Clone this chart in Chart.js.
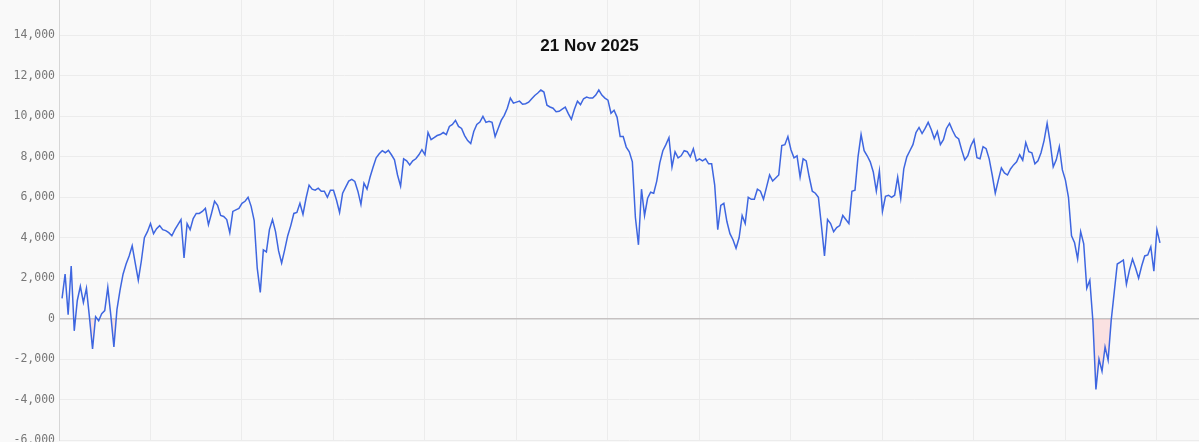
<!DOCTYPE html>
<html><head><meta charset="utf-8">
<script src="https://cdn.jsdelivr.net/npm/chart.js@4.4.1/dist/chart.umd.min.js"></script>
<style>
html,body{margin:0;padding:0;background:#f9f9f9;overflow:hidden;width:1199px;height:442px;}
#wrap{position:absolute;left:0;top:-16px;width:1199px;height:467px;}
</style></head><body>
<div id="wrap"><canvas id="c"></canvas></div>
<script>
const chartTitle = '21 Nov 2025';
const yTickValues = [-6000, -4000, -2000, 0, 2000, 4000, 6000, 8000, 10000, 12000, 14000, 16000];
const xGridIndex = [29, 59, 89, 119, 149, 179, 209, 239, 269, 299, 329, 359];

const pnlPart1 = [
  1000, 2200, 200, 2600, -600, 900, 1600, 800, 1500, 50,
  -1500, 100, -100, 250, 400, 1550, 150, -1400, 450, 1400,
  2200, 2700, 3100, 3600, 2750, 1900, 2850, 4000, 4300, 4700,
  4200, 4450, 4600, 4400, 4350, 4250, 4100, 4400, 4650, 4900,
  3000, 4700, 4400, 4950, 5200, 5200, 5300, 5450, 4650, 5200,
  5800, 5600, 5100, 5050, 4900, 4250, 5300, 5380, 5450, 5700,
  5800, 6000, 5550, 4850, 2500, 1300, 3400, 3300, 4400, 4900,
  4300, 3350, 2750, 3400, 4100, 4600, 5200, 5250, 5700, 5150,
  5950, 6600, 6400, 6350, 6450, 6300, 6300, 6000, 6350, 6350
];
const pnlPart2 = [
  5850, 5250, 6200, 6500, 6800, 6880, 6780, 6300, 5650, 6700,
  6400, 7000, 7500, 7950, 8150, 8300, 8200, 8320, 8100, 7850,
  7100, 6550, 7900, 7800, 7600, 7800, 7900, 8100, 8350, 8100,
  9200, 8850, 8950, 9050, 9100, 9200, 9100, 9500, 9600, 9800,
  9500, 9400, 9050, 8800, 8650, 9250, 9600, 9720, 10000, 9700,
  9750, 9700, 9000, 9400, 9800, 10050, 10400, 10900, 10650, 10700,
  10750, 10600, 10620, 10700, 10870, 11030, 11150, 11300, 11200, 10550,
  10460, 10400, 10230, 10250, 10350, 10450, 10130, 9850, 10350, 10750,
  10580, 10870, 10950, 10900, 10900, 11050, 11300, 11050, 10900, 10800
];
const pnlPart3 = [
  10150, 10300, 9950, 9000, 9000, 8480, 8250, 7750, 5000, 3650,
  6400, 5100, 5950, 6250, 6200, 6800, 7700, 8300, 8600, 8950,
  7500, 8250, 7950, 8050, 8300, 8250, 8000, 8400, 7800, 7900,
  7800, 7900, 7650, 7650, 6600, 4400, 5600, 5700, 4800, 4200,
  3900, 3480, 4000, 5100, 4700, 6000, 5900, 5900, 6400, 6300,
  5900, 6500, 7100, 6800, 6950, 7100, 8550, 8600, 9000, 8350,
  7950, 8050, 7000, 7900, 7800, 7000, 6300, 6200, 6000, 4600,
  3100, 4900, 4700, 4300, 4500, 4600, 5100, 4900, 4700, 6300,
  6350, 8000, 9100, 8300, 8050, 7750, 7250, 6300, 7300, 5300
];
const pnlPart4 = [
  6050, 6100, 6000, 6100, 7000, 5950, 7400, 8000, 8300, 8600,
  9200, 9450, 9150, 9400, 9700, 9350, 8900, 9250, 8600, 8850,
  9400, 9650, 9300, 9000, 8880, 8330, 7850, 8050, 8550, 8850,
  7950, 7900, 8500, 8400, 7900, 7100, 6200, 6850, 7450, 7200,
  7100, 7400, 7600, 7750, 8100, 7830, 8700, 8250, 8200, 7650,
  7800, 8200, 8800, 9650, 8700, 7500, 7850, 8500, 7350, 6850,
  6000, 4100, 3750, 2950, 4300, 3700, 1500, 1900, -100, -3500,
  -2000, -2600, -1400, -2050, -100, 1300, 2700, 2800, 2900, 1700,
  2400, 2950, 2500, 2000, 2600, 3100, 3150, 3550, 2350, 4400,
  3750
];

const pnlValues = pnlPart1.concat(pnlPart2, pnlPart3, pnlPart4);
const points = pnlValues.map((v, i) => ({ x: i, y: v }));

const titlePlugin = {
  id: 'innerTitle',
  afterDraw(chart) {
    const ctx = chart.ctx;
    ctx.save();
    ctx.font = 'bold 17px "Liberation Sans", Arial, sans-serif';
    ctx.fillStyle = '#111';
    ctx.textAlign = 'center';
    ctx.textBaseline = 'alphabetic';
    ctx.fillText(chartTitle, 589.5, 67);
    ctx.restore();
  }
};

new Chart(document.getElementById('c'), {
  type: 'line',
  data: {
    datasets: [{
      data: points,
      borderColor: '#3e66e0',
      borderWidth: 1.5,
      pointRadius: 0,
      tension: 0,
      fill: { target: { value: 0 }, above: 'rgba(0,0,0,0)', below: 'rgba(255,140,140,0.22)' }
    }]
  },
  options: {
    responsive: true,
    maintainAspectRatio: false,
    animation: false,
    layout: { padding: { top: 10, right: 0, bottom: 10, left: 0 } },
    plugins: { legend: { display: false }, tooltip: { enabled: false }, title: { display: false } },
    scales: {
      x: {
        type: 'linear',
        min: -1,
        max: 372.8,
        afterBuildTicks(scale) { scale.ticks = xGridIndex.map(v => ({ value: v })); },
        ticks: { display: false },
        grid: { color: '#ececec', lineWidth: 1, drawTicks: false },
        border: { display: false }
      },
      y: {
        min: -6000,
        max: 16000,
        afterBuildTicks(scale) { scale.ticks = yTickValues.map(v => ({ value: v })); },
        afterFit(scale) { scale.width = 59; },
        ticks: {
          padding: 4,
          color: '#777',
          font: { family: '"DejaVu Sans Mono", monospace', size: 11.5 },
          callback: v => Number(v).toLocaleString('en-US')
        },
        grid: {
          drawTicks: false,
          color: ctx => ctx.tick && ctx.tick.value === 0 ? '#c4c4c4' : '#ececec',
          lineWidth: ctx => ctx.tick && ctx.tick.value === 0 ? 1.5 : 1
        },
        border: { display: true, color: '#d6d6d6', width: 1 }
      }
    }
  },
  plugins: [titlePlugin]
});
</script>
</body></html>
